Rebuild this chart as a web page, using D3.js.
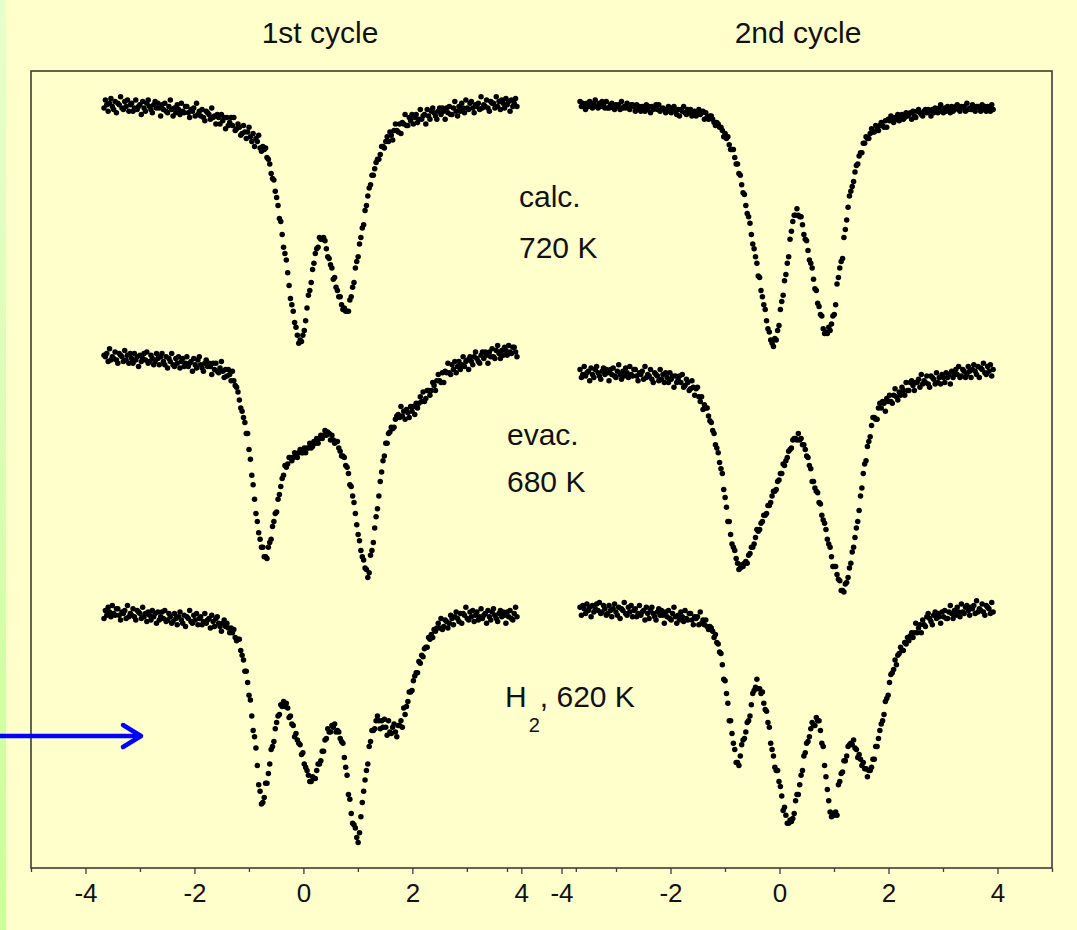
<!DOCTYPE html>
<html>
<head>
<meta charset="utf-8">
<script src="https://cdn.jsdelivr.net/npm/d3@7"></script>
<style>
  html, body { margin: 0; padding: 0; background: #FFFFCC; }
  svg { display: block; }
</style>
</head>
<body>
<svg id="chart" width="1077" height="930"></svg>
<script>
// Drive velocity calibration (mm/s) of the recorded channels
const velocityMin = -3.66;
const velocityMax = 3.92;
const channelCount = 300;

const cycleTitles = ["1st cycle", "2nd cycle"];
const majorTicks = [-4, -2, 0, 2, 4];
const minorTicks = [-5, -3, -1, 1, 3, 5];

// Relative absorption (per mille, below each row's reference level), one value per channel
const calc1 = [
  5,0,3,7,2,-1,4,6,1,8, 2,3,-2,5,6,1,4,0,7,3, 2,7,5,0,6,4,3,9,1,5, 7,2,0,4,6,8,3,1,5,2,
  5,10,3,6,2,7,8,4,0,6, 10,5,8,3,6,9,2,7,8,4, 4,8,11,6,7,5,10,2,9,7, 10,6,11,13,7,8,9,12,5,11,
  10,15,9,11,15,9,13,11,18,11, 16,14,11,16,11,19,18,15,17,22, 21,16,20,24,20,17,23,26,21,29, 24,26,22,30,32,29,31,30,36,37,
  40,46,49,50,57,61,66,74,76,84, 92,96,100,108,116,124,128,132,139,142, 147,152,150,151,147,144,138,130,122,119,
  114,106,102,96,93,92,86,87,87,86, 88,93,98,99,103,105,112,111,117,119, 123,123,128,131,130,132,132,132,125,123,
  117,114,105,101,98,90,86,80,78,69, 66,60,55,53,47,47,43,39,37,37, 34,29,29,30,26,23,26,20,22,25,
  19,15,19,20,15,21,14,15,9,16, 16,11,13,9,15,11,9,14,12,6, 12,10,9,15,6,10,12,7,5,8,
  10,12,7,5,9,5,7,12,5,8, 4,9,9,5,1,7,10,4,7,2, 5,8,0,5,6,2,1,5,8,3,
  4,2,6,-2,5,3,4,0,5,7, 1,2,2,5,-2,4,1,6,0,2, 5,-1,3,1,7,0,4,2,-1,4
];
const calc2 = [
  1,4,2,3,6,2,4,1,4,5, 2,0,4,5,2,4,1,3,5,1, 5,5,3,2,5,6,3,4,3,6, 1,5,4,5,2,5,6,3,3,4,
  7,3,6,4,7,4,5,7,3,6, 4,8,4,6,5,3,6,3,7,6, 5,6,8,7,4,6,8,5,4,7, 9,6,10,6,7,4,8,9,6,8,
  6,10,8,7,10,9,6,9,8,7, 12,8,11,12,10,10,12,14,16,14, 15,17,17,19,23,21,24,23,28,31, 31,31,36,40,40,46,47,53,58,59,
  66,71,73,77,84,90,93,98,102,110, 111,119,123,128,131,138,143,145,150,152, 154,149,150,144,141,131,126,122,113,109,
  102,98,87,82,76,72,72,68,72,73, 73,78,84,87,88,94,100,102,105,112, 118,119,127,129,134,135,143,146,145,146,
  142,144,140,135,134,128,115,111,105,101, 99,86,81,75,67,60,57,54,51,45, 41,40,35,33,33,27,27,23,24,24,
  21,18,20,20,16,18,19,16,14,16, 17,13,17,12,13,10,13,14,11,12, 9,13,11,9,12,11,8,10,9,8,
  12,7,10,11,7,6,8,9,10,7, 6,8,6,7,10,6,8,5,7,8, 5,3,7,8,5,7,4,6,8,4,
  7,6,4,3,6,7,4,5,4,7, 2,6,5,6,3,6,7,4,4,5, 7,3,6,4,7,4,5,7,3,6
];
const evac1 = [
  2,3,1,6,-2,5,3,4,0,5, 7,1,2,3,6,-1,5,2,7,1, 4,7,1,5,3,9,2,6,4,1, 5,0,7,6,2,4,8,6,1,4,
  8,3,1,6,8,3,10,4,6,1, 8,9,4,7,3,10,6,4,9,7, 3,9,7,6,12,4,8,10,5,3, 8,10,12,7,5,9,7,9,14,7,
  11,7,12,13,10,6,12,16,11,15, 11,14,18,12,18,21,22,25,30,35, 37,41,44,51,51,61,67,77,83,92, 101,106,113,117,122,122,128,128,129,122,
  119,117,109,106,101,100,92,89,84,79, 77,71,72,70,66,66,68,66,63,64, 66,63,61,63,63,60,63,60,60,57,
  60,59,56,57,54,57,54,52,54,52, 49,52,50,51,55,52,55,57,56,56, 60,62,65,65,66,71,72,76,83,84,
  90,94,101,108,114,118,124,128,130,135, 136,141,138,127,124,119,110,103,98,90, 81,75,68,65,57,57,51,50,47,48,
  47,42,40,39,41,34,40,37,42,36, 38,41,34,37,34,39,32,35,32,28, 31,25,31,29,24,24,27,24,19,21,
  24,18,14,18,19,13,19,12,13,7, 13,14,8,11,6,13,9,6,11,8, 3,9,6,5,11,3,6,8,3,0,
  4,6,7,2,0,4,0,2,7,0, 3,-2,3,4,-1,-4,1,4,-1,2, -3,-1,2,-4,0,1,-3,-3,0,3
];
const evac2 = [
  11,16,14,9,15,13,12,18,10,14, 16,11,9,13,15,17,12,10,14,11, 13,18,11,14,10,15,16,12,8,14, 17,12,15,10,13,16,9,14,15,11,
  11,15,18,13,14,12,17,9,16,14, 15,11,17,19,13,14,15,18,11,17, 14,19,13,16,19,13,17,15,22,15, 19,17,15,19,14,22,21,17,19,24,
  23,18,22,27,23,22,28,31,28,36, 33,35,35,40,43,44,49,51,58,60, 63,69,73,76,86,91,97,106,106,114, 120,122,124,129,132,136,135,133,134,132,
  131,132,127,126,122,122,120,116,111,112, 111,107,106,102,102,101,96,96,94,90, 87,87,86,81,80,76,76,70,71,68,
  66,62,61,60,55,54,54,55,51,55, 54,58,58,61,65,66,71,73,81,81, 85,87,88,94,95,102,105,107,111,117,
  120,122,128,134,134,134,139,142,143,149, 149,150,145,144,141,135,132,125,122,116, 110,106,99,90,85,76,70,68,59,56,
  53,46,41,41,42,42,35,32,35,31, 32,37,29,31,27,31,32,27,23,28, 30,25,27,22,24,27,19,24,24,19,
  18,21,24,19,19,17,22,14,20,18, 19,15,20,22,15,16,17,20,13,19, 16,20,14,16,19,13,16,14,20,12,
  16,14,11,14,9,16,15,11,12,16, 14,9,12,16,11,8,12,14,9,16, 10,11,7,13,14,9,12,8,15,11
];
const hydrogen1 = [
  9,4,7,2,5,8,1,6,7,3, 3,7,10,5,6,4,9,1,8,6, 7,3,8,10,4,5,6,9,2,8, 6,11,5,7,10,4,8,6,12,5,
  10,8,5,9,4,11,10,6,8,12, 11,6,9,13,8,5,10,12,7,14, 8,9,4,11,12,7,10,6,13,9, 8,13,11,6,12,10,9,15,7,11,
  14,9,8,12,14,17,12,10,14,12, 15,18,15,18,16,21,23,22,22,29, 32,35,42,42,49,57,60,70,79,83, 90,101,113,117,125,124,121,112,112,106,
  100,91,89,86,78,74,70,69,63,64, 61,64,62,65,71,70,75,76,83,81, 85,87,88,94,93,100,102,104,107,111,
  111,108,109,109,104,100,100,98,92,92, 85,84,78,80,80,76,77,75,80,79, 80,84,86,87,96,102,107,119,122,131,
  137,138,140,146,149,143,133,124,117,110, 104,100,89,86,79,79,78,73,70,73, 78,73,77,72,77,82,73,80,81,77,
  75,80,83,76,76,73,77,65,69,64, 61,55,55,54,48,45,43,43,36,37, 32,33,28,27,27,21,22,19,21,16,
  17,15,12,15,9,16,14,10,11,15, 12,7,9,13,8,5,9,11,6,12, 6,7,2,9,10,5,8,4,11,7,
  5,10,8,3,9,7,6,12,4,8, 10,5,3,7,9,11,6,4,8,5, 7,12,5,8,4,9,10,6,2,8
];
const hydrogen2 = [
  2,7,1,3,6,0,4,2,8,1, 5,3,0,4,-1,6,5,1,3,7, 6,1,4,8,3,0,5,7,2,9, 3,4,-1,6,7,2,5,1,8,4,
  3,8,6,1,7,5,4,10,2,6, 9,4,2,6,8,10,5,3,7,4, 7,12,5,8,4,9,10,6,2,8, 12,7,10,5,8,11,4,9,10,6,
  6,10,13,8,9,8,13,5,12,10, 13,10,14,16,14,15,17,21,19,24, 25,30,31,38,47,48,56,62,73,73, 81,87,91,99,99,101,95,88,85,84,
  80,74,73,70,63,56,54,52,47,53, 53,56,55,62,66,67,74,77,87,91, 95,102,104,104,111,114,120,129,127,132,
  137,137,135,136,134,131,123,119,119,113, 107,104,95,93,87,86,83,78,74,76, 76,71,73,73,79,87,89,101,108,116,
  123,130,133,131,132,130,132,113,111,106, 105,98,98,95,89,88,87,88,85,90, 91,96,94,97,101,99,103,103,108,104,
  104,102,97,97,89,89,84,79,75,73, 69,61,59,57,49,44,43,41,35,38, 32,31,27,29,29,24,25,21,23,20,
  18,21,18,12,18,15,13,18,10,13, 14,8,6,9,11,13,7,5,9,6, 8,12,5,8,4,9,9,5,1,6,
  9,4,7,2,5,8,0,5,6,2, 1,4,7,2,3,1,6,-2,5,3, 4,0,5,7,1,2,3,6,-1,5
];

const velocity = d3.range(channelCount).map(i => velocityMin + i * (velocityMax - velocityMin) / (channelCount - 1));

const spectra = [
  { values: calc1, col: 0, row: 0 },
  { values: calc2, col: 1, row: 0 },
  { values: evac1, col: 0, row: 1 },
  { values: evac2, col: 1, row: 1 },
  { values: hydrogen1, col: 0, row: 2 },
  { values: hydrogen2, col: 1, row: 2 }
];

const svg = d3.select("#chart");
const font = "'Liberation Sans', Arial, Helvetica, sans-serif";

// page background and the green edge band on the left
const defs = svg.append("defs");
const grad = defs.append("linearGradient").attr("id", "edgeBand").attr("x1", 0).attr("y1", 0).attr("x2", 0).attr("y2", 1);
grad.append("stop").attr("offset", "0%").attr("stop-color", "#E8FFCC");
grad.append("stop").attr("offset", "100%").attr("stop-color", "#CCFF99");
svg.append("rect").attr("width", 1077).attr("height", 930).attr("fill", "#FFFFCC");
svg.append("rect").attr("x", 0).attr("y", 0).attr("width", 6).attr("height", 930).attr("fill", "url(#edgeBand)");

// plot frame
const frame = { left: 31, top: 71, right: 1052, bottom: 868 };
svg.append("rect")
  .attr("x", frame.left).attr("y", frame.top)
  .attr("width", frame.right - frame.left).attr("height", frame.bottom - frame.top)
  .attr("fill", "none").attr("stroke", "#3c3c3c").attr("stroke-width", 1.6);

// velocity axes: one per column, they overlap in the middle
const xScales = [
  d3.scaleLinear().domain([-5, 5]).range([31, 575.8]),
  d3.scaleLinear().domain([-5, 5]).range([507, 1052])
];
// absorption scale for each row of spectra
const rowTops = [100, 352, 604];
const yScales = rowTops.map(t => d3.scaleLinear().domain([0, 150]).range([t, t + 240]));

xScales.forEach(x => {
  const minor = svg.append("g").attr("transform", `translate(0,${frame.bottom})`)
    .call(d3.axisBottom(x).tickValues(minorTicks).tickSize(4).tickSizeOuter(0).tickFormat(""));
  minor.select(".domain").remove();
  minor.selectAll("line").attr("stroke", "#3c3c3c").attr("stroke-width", 1.3);

  const major = svg.append("g").attr("transform", `translate(0,${frame.bottom})`)
    .call(d3.axisBottom(x).tickValues(majorTicks).tickSize(6).tickSizeOuter(0).tickFormat(d => String(d)));
  major.select(".domain").remove();
  major.selectAll("line").attr("stroke", "#3c3c3c").attr("stroke-width", 1.3);
  major.selectAll("text")
    .attr("y", 34).attr("dy", null)
    .attr("fill", "#111").attr("font-family", font).attr("font-size", 26);
});

// spectra
spectra.forEach(s => {
  const x = xScales[s.col], y = yScales[s.row];
  svg.append("g").selectAll("circle")
    .data(s.values)
    .join("circle")
    .attr("cx", (d, i) => x(velocity[i]))
    .attr("cy", d => y(d))
    .attr("r", 2.75)
    .attr("fill", "#000");
});

// column titles
[320, 798].forEach((cx, i) => {
  svg.append("text").attr("x", cx).attr("y", 43)
    .attr("text-anchor", "middle").attr("font-family", font).attr("font-size", 30).attr("fill", "#111")
    .text(cycleTitles[i]);
});

// treatment labels
const labelStyle = t => t.attr("font-family", font).attr("font-size", 30).attr("fill", "#111");
labelStyle(svg.append("text").attr("x", 519).attr("y", 207)).text("calc.");
labelStyle(svg.append("text").attr("x", 519).attr("y", 258)).text("720 K");
labelStyle(svg.append("text").attr("x", 507).attr("y", 445)).text("evac.");
labelStyle(svg.append("text").attr("x", 507).attr("y", 492)).text("680 K");
const h2 = labelStyle(svg.append("text").attr("x", 505).attr("y", 707));
h2.append("tspan").text("H");
h2.append("tspan").attr("font-size", 20).attr("dy", 25).attr("dx", 2).text("2");
h2.append("tspan").attr("dy", -25).text(", 620 K");

// blue pointer arrow
const arrow = svg.append("g").attr("stroke", "#0000FF").attr("stroke-width", 4.5)
  .attr("fill", "none").attr("stroke-linecap", "round").attr("stroke-linejoin", "round");
arrow.append("line").attr("x1", 0).attr("y1", 736).attr("x2", 139).attr("y2", 736);
arrow.append("polyline").attr("points", "123,725 141,736 123,747");
</script>
</body>
</html>
